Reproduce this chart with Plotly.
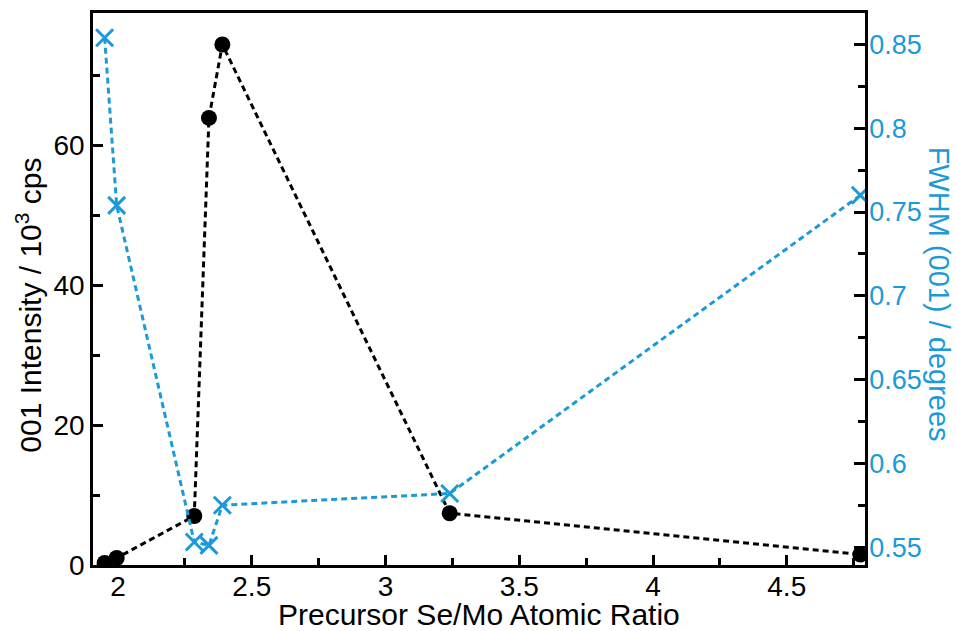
import plotly.graph_objects as go

# Precursor Se/Mo atomic ratio of each film
ratio = [1.95, 1.995, 2.285, 2.34, 2.39, 3.24, 4.775]
# 001 reflection intensity (10^3 cps)
intensity = [0.3, 1.0, 7.0, 63.9, 74.4, 7.4, 1.5]
# 001 reflection FWHM (degrees)
fwhm = [0.854, 0.754, 0.553, 0.551, 0.575, 0.582, 0.760]

BLUE = "#1B9AD7"
FONT = "Liberation Sans, Arial, sans-serif"
TICK_FS = 28
TITLE_FS = 30

fig = go.Figure()

fig.add_trace(go.Scatter(
    x=ratio, y=intensity, mode="lines+markers",
    line=dict(color="black", width=3, dash="6px,4px"),
    marker=dict(symbol="circle", size=16, color="black"),
    yaxis="y", showlegend=False,
))

fig.add_trace(go.Scatter(
    x=ratio, y=fwhm, mode="lines+markers",
    line=dict(color=BLUE, width=3, dash="6px,4px"),
    marker=dict(symbol="x-thin", size=17, color=BLUE,
                line=dict(color=BLUE, width=3)),
    yaxis="y2", showlegend=False,
))

# Axis titles placed as annotations so their positions stay fixed
fig.add_annotation(
    text="Precursor Se/Mo Atomic Ratio",
    xref="paper", yref="paper", x=0.5, y=-0.089,
    xanchor="center", yanchor="middle", showarrow=False,
    font=dict(family=FONT, size=TITLE_FS, color="black"),
)
fig.add_annotation(
    text="001 Intensity / 10<sup>3</sup> cps", textangle=-90,
    xref="paper", yref="paper", x=-0.084, y=0.47,
    xanchor="center", yanchor="middle", showarrow=False,
    font=dict(family=FONT, size=TITLE_FS, color="black"),
)
fig.add_annotation(
    text="FWHM (001) / degrees", textangle=90,
    xref="paper", yref="paper", x=1.097, y=0.49,
    xanchor="center", yanchor="middle", showarrow=False,
    font=dict(family=FONT, size=TITLE_FS - 1, color=BLUE),
)

fig.update_layout(
    width=956, height=631,
    margin=dict(l=93, r=91, t=13, b=66),
    paper_bgcolor="white", plot_bgcolor="white",
    font=dict(family=FONT, size=TICK_FS, color="black"),
    xaxis=dict(
        range=[1.9065, 4.7925], dtick=0.5, tick0=0,
        ticks="inside", ticklen=10, tickwidth=2.5, tickcolor="black",
        minor=dict(ticks="inside", dtick=0.25, ticklen=7, tickwidth=2.5, tickcolor="black"),
        showline=True, linecolor="black", linewidth=2.5, mirror=True,
        showgrid=False, zeroline=False, automargin=False,
        ticklabelstandoff=-5,
        tickfont=dict(family=FONT, size=TICK_FS),
    ),
    yaxis=dict(
        range=[0, 78.9], dtick=20, tick0=0,
        ticks="inside", ticklen=10, tickwidth=2.5, tickcolor="black",
        minor=dict(ticks="inside", dtick=10, ticklen=7, tickwidth=2.5, tickcolor="black"),
        showline=True, linecolor="black", linewidth=2.5,
        showgrid=False, zeroline=False, automargin=False,
        tickfont=dict(family=FONT, size=TICK_FS),
    ),
    yaxis2=dict(
        overlaying="y", side="right",
        range=[0.5393, 0.8688], dtick=0.05, tick0=0,
        ticks="inside", ticklen=11, tickwidth=2.5, tickcolor="black",
        minor=dict(ticks="inside", dtick=0.025, ticklen=7, tickwidth=2.5, tickcolor="black"),
        showline=True, linecolor="black", linewidth=2.5,
        showgrid=False, zeroline=False, automargin=False,
        ticklabelstandoff=-4,
        tickfont=dict(family=FONT, size=TICK_FS - 1, color=BLUE),
    ),
)

fig.write_html("out.html")
